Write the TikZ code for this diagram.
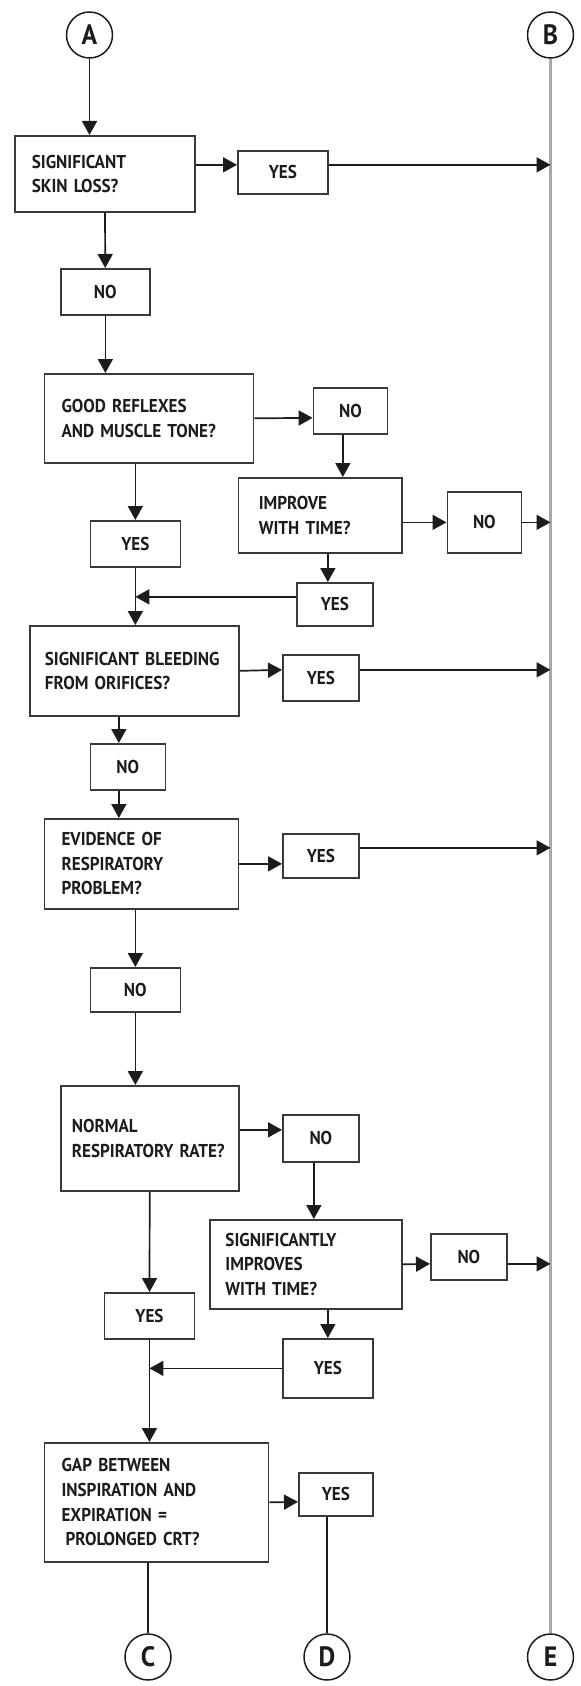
\documentclass[tikz,border=0pt]{standalone}
\usepackage{fontspec}
\usetikzlibrary{arrows.meta}

\newfontfamily\flowfont[FakeStretch=0.92]{PT Sans}
\newcommand\boxtext{\flowfont\bfseries\fontsize{9.3}{12.3}\selectfont}
\newcommand\circletext{\flowfont\bfseries\fontsize{14}{14}\selectfont}
\definecolor{boxline}{HTML}{3A3A3A}
\definecolor{railgray}{HTML}{A8A8A8}
\definecolor{inkblack}{HTML}{1C1C1C}

\begin{document}
\begin{tikzpicture}[x=0.5pt,y=-0.5pt,->,>={Triangle[length=7pt,width=7.5pt]},line width=0.85pt,draw=inkblack,text=inkblack,
    question/.style={draw=boxline,anchor=north west,align=left,inner ysep=0pt,inner xsep=8.5pt,font=\boxtext},
    answer/.style={draw=boxline,anchor=north west,inner sep=0pt,font=\boxtext},
    link node/.style={circle,draw=inkblack,minimum size=23pt,inner sep=0pt,line width=0.75pt,font=\circletext}]
    \useasboundingbox (0,0) rectangle (580,1686);

    % connectors A--E
    \node[link node] (A) at (89.5,35) {A};
    \node[link node] (B) at (550.5,35) {B};
    \node[link node] (C) at (148,1657) {C};
    \node[link node] (D) at (327,1657) {D};
    \node[link node] (E) at (550.5,1657) {E};
    \draw[-,draw=railgray,line width=1.25pt] (B) -- (E);

    % questions
    \node[question,text width=73pt,minimum height=38pt] (q1) at (14,135) {SIGNIFICANT\\SKIN~LOSS?};
    \node[question,text width=87.5pt,minimum height=44.5pt] (q2) at (43.7,373) {GOOD~REFLEXES\\AND~MUSCLE~TONE?};
    \node[question,text width=61.25pt,inner xsep=10.25pt,minimum height=37.5pt] (q3) at (237.5,477) {IMPROVE\\WITH~TIME?};
    \node[question,text width=89.5pt,inner xsep=7.5pt,minimum height=45pt] (q4) at (29,625) {SIGNIFICANT~BLEEDING\\FROM~ORIFICES?};
    \node[question,text width=80pt,minimum height=45pt] (q5) at (43.7,818) {EVIDENCE~OF\\RESPIRATORY\\PROBLEM?};
    \node[question,text width=78pt,inner xsep=5.5pt,minimum height=52.5pt] (q6) at (60,1085) {NORMAL\\RESPIRATORY~RATE?};
    \node[question,text width=80.4pt,inner xsep=7.8pt,minimum height=44.5pt] (q7) at (209,1219) {SIGNIFICANTLY\\IMPROVES\\WITH~TIME?};
    \node[question,text width=95pt,minimum height=59.5pt] (q8) at (43.7,1442) {GAP~BETWEEN\\INSPIRATION~AND\\EXPIRATION~=\\\hspace{2pt}PROLONGED~CRT?};

    % answers
    \node[answer,minimum width=45pt,minimum height=21.5pt] (y1) at (237,150) {YES};
    \node[answer,minimum width=44.5pt,minimum height=23pt] (n1) at (60,268) {NO};
    \node[answer,minimum width=37pt,minimum height=23pt] (n2) at (312.6,387) {NO};
    \node[answer,minimum width=37pt,minimum height=30.5pt] (n3) at (446.5,491) {NO};
    \node[answer,minimum width=45pt,minimum height=23pt] (y2) at (89.5,520) {YES};
    \node[answer,minimum width=38pt,minimum height=21.5pt] (y3) at (296,582) {YES};
    \node[answer,minimum width=38pt,minimum height=23pt] (y4) at (282,654) {YES};
    \node[answer,minimum width=37.5pt,minimum height=23pt] (n4) at (89.5,743) {NO};
    \node[answer,minimum width=38pt,minimum height=22pt] (y5) at (282,833) {YES};
    \node[answer,minimum width=45pt,minimum height=22pt] (n5) at (89.5,967) {NO};
    \node[answer,minimum width=38pt,minimum height=23.5pt] (n6) at (282,1114) {NO};
    \node[answer,minimum width=38pt,minimum height=23pt] (n7) at (430,1233) {NO};
    \node[answer,minimum width=45pt,minimum height=23pt] (y6) at (103.6,1292) {YES};
    \node[answer,minimum width=45pt,minimum height=29.5pt] (y7) at (282,1338) {YES};
    \node[answer,minimum width=37pt,minimum height=21.5pt] (y8) at (298,1472) {YES};

    % downward flow
    \path
        (A) edge (A |- q1.north)
        (q1) edge (n1)
        (n1) edge (n1 |- q2.north)
        (y2 |- q2.south) edge (y2)
        ([xshift=-3.8pt]n2.south) edge ([xshift=-3.8pt]n2.south |- q3.north)
        ([xshift=-3.5pt]y3.north |- q3.south) edge ([xshift=-3.5pt]y3.north)
        (y2) edge (y2 |- q4.north)
        ([xshift=-4.5pt]n4.north |- q4.south) edge ([xshift=-4.5pt]n4.north)
        ([xshift=-4.5pt]n4.south) edge ([xshift=-4.5pt]n4.south |- q5.north)
        (n5 |- q5.south) edge (n5)
        (n5) edge (n5 |- q6.north)
        (q6) edge (y6)
        ([xshift=-3.5pt]n6.south) edge ([xshift=-3.5pt]n6.south |- q7.north)
        (y7 |- q7.south) edge (y7)
        (y6) edge (y6 |- q8.north)
    ;

    % side branches
    \draw ([yshift=4.5pt]q1.east) -- ([yshift=3.75pt]y1.west);
    \draw ([yshift=3.75pt]y1.east) -- ([yshift=3.75pt]y1.east -| B);
    \draw (q2.east) -- ([yshift=-3.5pt]n2.west);
    \draw (q3.east |- n3) -- (n3);
    \draw (n3) -- (n3 -| B);
    \draw ([yshift=3.75pt]y3.west) -- ([yshift=3.75pt]y3.west -| y2);
    \draw (q4.east) -- ([yshift=4pt]y4.west);
    \draw ([yshift=4pt]y4.east) -- ([yshift=4pt]y4.east -| B);
    \draw (q5.east) -- ([yshift=-4pt]y5.west);
    \draw ([yshift=4pt]y5.east) -- ([yshift=4pt]y5.east -| B);
    \draw ([yshift=4.25pt]q6.east) -- ([yshift=4.25pt]n6.west);
    \draw (q7.east) -- ([yshift=-3.5pt]n7.west);
    \draw ([yshift=-3.5pt]n7.east) -- ([yshift=-3.5pt]n7.east -| B);
    \draw (y7) -- (y7 -| y6);
    \draw (q8.east) -- ([yshift=-3.75pt]y8.west);

    % exits
    \draw[-] (C |- q8.south) -- (C);
    \draw[-] (D |- y8.south) -- (D);
\end{tikzpicture}
\end{document}
